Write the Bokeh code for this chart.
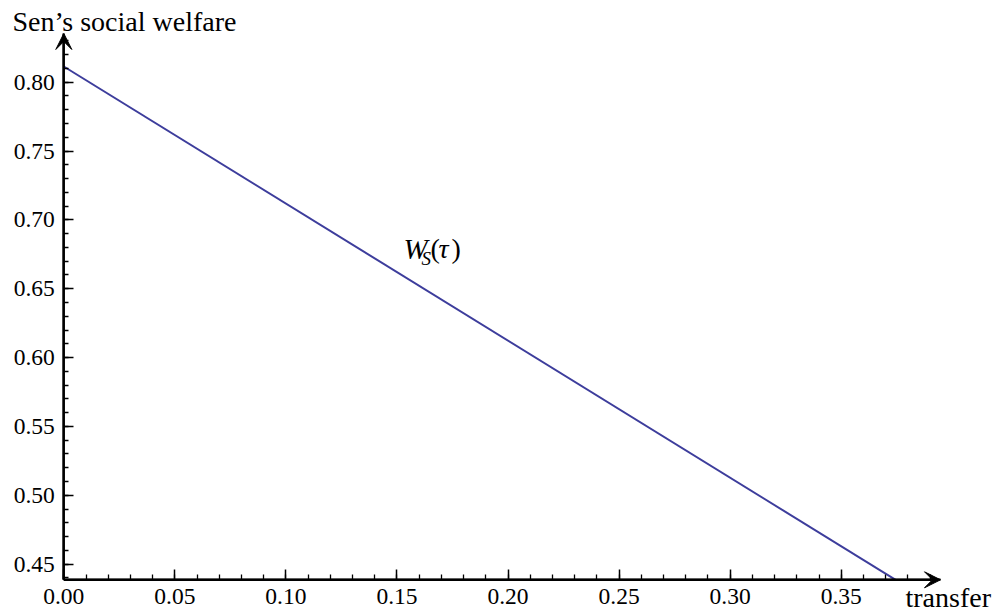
from bokeh.plotting import figure
from bokeh.models import Range1d, SingleIntervalTicker, Arrow, VeeHead, Label, PrintfTickFormatter, LinearAxis
from bokeh.embed import file_html
from bokeh.resources import INLINE

# data
transfer = [0.0, 0.3745]
welfare = [0.8114, 0.4386]
x_label = "transfer"
y_label = "Sen\u2019s social welfare"

FONT = "'Liberation Serif'"
LINE_COLOR = "#3d3d9c"

# axis extents (origin and arrow tips)
ax_x0, ax_x1 = 0.0, 0.3947
ax_y0, ax_y1 = 0.43863, 0.83537

p = figure(width=1000, height=615, x_range=Range1d(-0.02850, 0.42171), y_range=Range1d(0.41271, 0.85933),
           output_backend="svg", toolbar_location=None, x_axis_location=None, y_axis_location=None,
           min_border=0)
p.outline_line_color = None
p.xgrid.visible = False
p.ygrid.visible = False

p.line(transfer, welfare, line_color=LINE_COLOR, line_width=2)

xa = LinearAxis(fixed_location=ax_y0, bounds=(ax_x0, ax_x1))
ya = LinearAxis(fixed_location=ax_x0, bounds=(ax_y0, ax_y1))
p.add_layout(xa, "below")
p.add_layout(ya, "left")
for ax in (xa, ya):
    ax.ticker = SingleIntervalTicker(interval=0.05, num_minor_ticks=5)
    ax.formatter = PrintfTickFormatter(format="%.2f")
    ax.axis_line_width = 2.2
    ax.axis_line_color = "black"
    ax.major_tick_in = 10
    ax.major_tick_out = 0
    ax.minor_tick_in = 5
    ax.minor_tick_out = 0
    ax.major_tick_line_width = 1.5
    ax.minor_tick_line_width = 1.3
    ax.major_label_text_font = FONT
    ax.major_label_text_font_size = "23.5px"
    ax.major_label_text_color = "black"
xa.major_label_standoff = 9
ya.major_label_standoff = 9

# arrows at axis ends
p.add_layout(Arrow(end=VeeHead(size=16, fill_color="black", line_color="black", line_width=1),
                   x_start=ax_x0, y_start=ax_y0, x_end=ax_x1, y_end=ax_y0, line_width=2.2, line_color="black"))
p.add_layout(Arrow(end=VeeHead(size=16, fill_color="black", line_color="black", line_width=1),
                   x_start=ax_x0, y_start=ax_y0, x_end=ax_x0, y_end=ax_y1, line_width=2.2, line_color="black"))

# axis titles
p.add_layout(Label(x=-0.0231, y=0.83755, y_offset=9, text=y_label, text_baseline="alphabetic",
                   text_font=FONT, text_font_size="28px", text_color="black"))
p.add_layout(Label(x=0.37894, y=0.41925, y_offset=9, text=x_label, text_baseline="alphabetic",
                   text_font=FONT, text_font_size="28px", text_color="black"))

# W_S(tau) label
lx, ly = 0.15294, 0.67124
common = dict(x=lx, y=ly, text_baseline="alphabetic", text_font=FONT, text_color="black")
p.add_layout(Label(text="W", y_offset=11, text_font_style="italic", text_font_size="29px", **common))
p.add_layout(Label(text="S", x_offset=18, y_offset=1, text_font_style="italic",
                   text_font_size="19px", **common))
p.add_layout(Label(text="(", x_offset=27, y_offset=11, text_font_size="28px", **common))
p.add_layout(Label(text="\u03c4", x_offset=35, y_offset=11, text_font_style="italic", text_font_size="28px", **common))
p.add_layout(Label(text=")", x_offset=48, y_offset=11, text_font_size="28px", **common))

open("out.html", "w").write(file_html(p, INLINE))
